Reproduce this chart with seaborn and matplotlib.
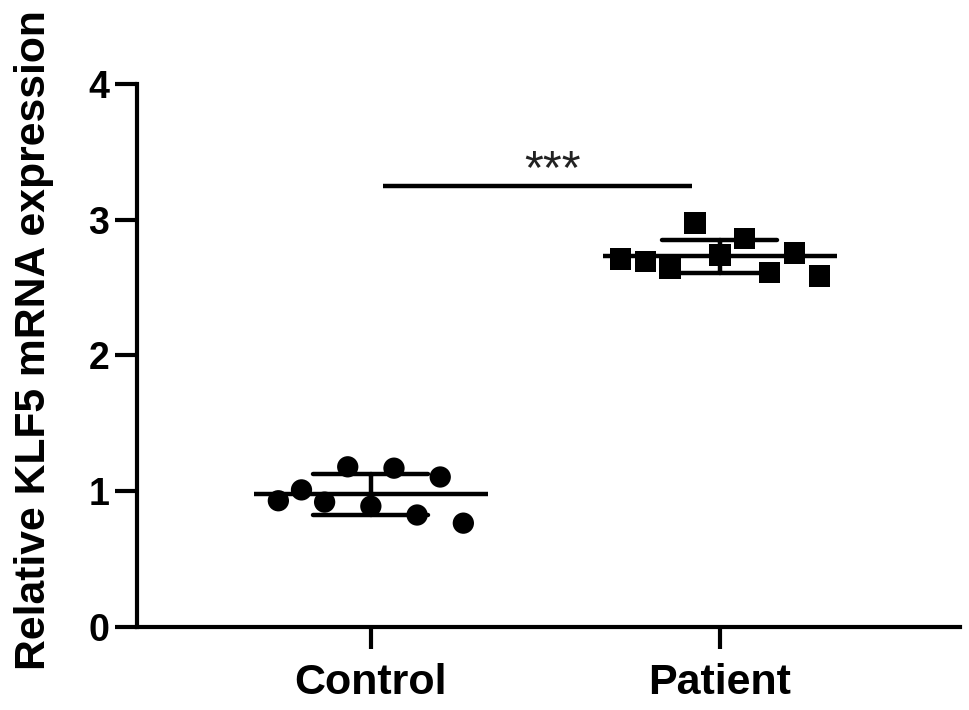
import numpy as np
import pandas as pd
import seaborn as sns
import matplotlib.pyplot as plt

# 数据
groups = ['Control', 'Patient']
control_vals = [0.93, 1.01, 0.92, 1.18, 0.89, 1.17, 0.825, 1.105, 0.765]
patient_vals = [2.71, 2.69, 2.645, 2.975, 2.74, 2.86, 2.61, 2.755, 2.585]
ylabel = 'Relative KLF5 mRNA expression'
sig_text = '***'

sns.set_style('ticks')
plt.rcParams['font.family'] = ['Liberation Sans', 'DejaVu Sans']
for k in ['text.color', 'axes.labelcolor', 'axes.edgecolor', 'xtick.color', 'ytick.color']:
    plt.rcParams[k] = 'black'

# 组内横向散开
spread = {'Control': 0.265, 'Patient': 0.285}
rows = []
for code, (g, vals) in enumerate(zip(groups, [control_vals, patient_vals])):
    offs = np.linspace(-spread[g], spread[g], len(vals))
    for o, v in zip(offs, vals):
        rows.append({'group': g, 'value': v, 'pos': code + o})
df = pd.DataFrame(rows)

fig = plt.figure(figsize=(9.69, 7.10), dpi=100)
ax = fig.add_axes([0.1414, 0.1169, 0.8493, 0.7648])

# 均值 ± SD
sns.pointplot(data=df, x='group', y='value', order=groups, errorbar='sd', capsize=0.33,
              color='black', marker='_', markersize=168, markeredgewidth=3.2,
              linestyle='none', err_kws={'linewidth': 3.2}, ax=ax, zorder=2)

# 散点
sns.scatterplot(data=df, x='pos', y='value', style='group', markers={'Control': 'o', 'Patient': 's'},
                color='black', s=235, edgecolor='black', linewidth=0, legend=False, ax=ax, zorder=3)

# 显著性标记
ax.plot([0.034, 0.92], [3.25, 3.25], color='black', lw=3.2, solid_capstyle='butt')
ax.text(0.52, 3.36, sig_text, ha='center', va='center', fontsize=35, color='#222222')

ax.set_xlim(-0.67, 1.688)
ax.set_ylim(0, 4)
ax.set_xticks([0, 1])
ax.set_xticklabels(groups, fontsize=31, fontweight='bold')
ax.set_yticks([0, 1, 2, 3, 4])
ax.set_yticklabels(['0', '1', '2', '3', '4'], fontsize=27, fontweight='bold')
ax.set_xlabel('')
ax.set_ylabel(ylabel, fontsize=30.7, fontweight='bold')
ax.yaxis.set_label_coords(-0.101, 0.5285)

sns.despine(ax=ax)
for s in ['left', 'bottom']:
    ax.spines[s].set_linewidth(3)
ax.tick_params(axis='both', width=3, length=16, direction='out', pad=4)
ax.tick_params(axis='x', pad=10)

plt.savefig('out.png', dpi=100)
